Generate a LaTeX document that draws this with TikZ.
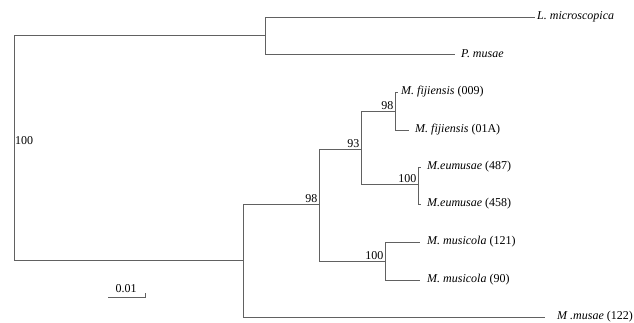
\documentclass[tikz,border=0pt]{standalone}
\usepackage{fontspec}
\setmainfont{Liberation Serif}
\begin{document}
\begin{tikzpicture}[x=1pt,y=-1pt,
  br/.style={draw=black!62, line width=0.8pt},
  taxon/.style={anchor=west, inner sep=0pt, font=\fontsize{12}{14}\selectfont},
  boot/.style={anchor=south east, inner xsep=1.5pt, inner ysep=1pt, font=\fontsize{12}{14}\selectfont}]
\useasboundingbox (0,0) rectangle (634,323);
% internal nodes
\coordinate (r) at (14,148);
\coordinate (A) at (265,35);
\coordinate (B) at (243,260);
\coordinate (C) at (319,204);
\coordinate (D) at (361,149);
\coordinate (E) at (395,111);
\coordinate (F) at (418,184);
\coordinate (G) at (385,261);
% leaf tips
\coordinate (tLm) at (535,17);
\coordinate (tPm) at (455,54);
\coordinate (tF1) at (398,92);
\coordinate (tF2) at (409,130);
\coordinate (tE1) at (421,167);
\coordinate (tE2) at (421,204);
\coordinate (tM1) at (420,242);
\coordinate (tM2) at (420,280);
\coordinate (tMm) at (545,317);
% taxa
\node[taxon] (Lm) at (537,17) {\textit{L. microscopica}};
\node[taxon] (Pm) at (461,54) {\textit{P. musae}};
\node[taxon] (F1) at (401,92) {\textit{M. fijiensis} (009)};
\node[taxon] (F2) at (415,130) {\textit{M. fijiensis} (01A)};
\node[taxon] (E1) at (427,167) {\textit{M.eumusae} (487)};
\node[taxon] (E2) at (427,204) {\textit{M.eumusae} (458)};
\node[taxon] (M1) at (427,242) {\textit{M. musicola} (121)};
\node[taxon] (M2) at (427,280) {\textit{M. musicola} (90)};
\node[taxon] (Mm) at (557,317) {\textit{M .musae} (122)};
% branches
\draw[br] (r) |- (A);
\draw[br] (r) |- (B);
\draw[br] (A) |- (tLm);
\draw[br] (A) |- (tPm);
\draw[br] (B) |- (C);
\draw[br] (B) |- (tMm);
\draw[br] (C) |- (D);
\draw[br] (C) |- (G);
\draw[br] (D) |- (E);
\draw[br] (D) |- (F);
\draw[br] (E) |- (tF1);
\draw[br] (E) |- (tF2);
\draw[br] (F) |- (tE1);
\draw[br] (F) |- (tE2);
\draw[br] (G) |- (tM1);
\draw[br] (G) |- (tM2);
% bootstrap values
\node[anchor=west, inner sep=1pt, font=\fontsize{12}{14}\selectfont] (b0) at (14,141) {100};
\node[boot] (b1) at (C) {98};
\node[boot] (b2) at (D) {93};
\node[boot] (b3) at (E) {98};
\node[boot] (b4) at (F) {100};
\node[boot] (b5) at (G) {100};
% scale bar
\coordinate (s1) at (108,297);
\coordinate (s2) at (145,297);
\coordinate (s3) at (145,293);
\draw[br] (s1) -- (s2) -- (s3);
\node[anchor=south, inner sep=1pt, font=\fontsize{12}{14}\selectfont] (sl) at (126,294) {0.01};
\end{tikzpicture}
\end{document}
